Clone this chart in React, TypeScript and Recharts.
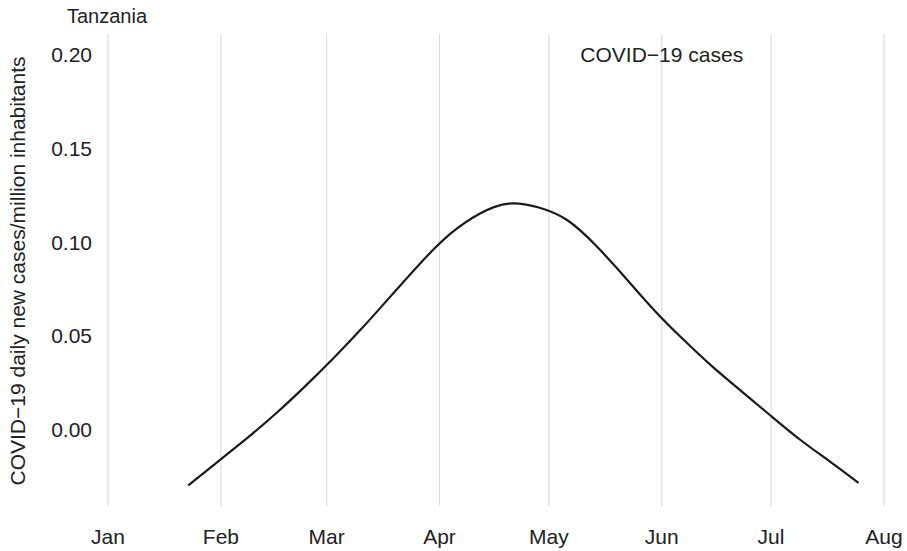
import React from 'react';
import { LineChart, Line, XAxis, YAxis, CartesianGrid, ReferenceDot, Customized } from 'recharts';

const dates = [
  '2020-01-23', '2020-01-31', '2020-02-08', '2020-02-16', '2020-02-24', '2020-03-03',
  '2020-03-11', '2020-03-19', '2020-03-27', '2020-04-04', '2020-04-12', '2020-04-20',
  '2020-04-28', '2020-05-06', '2020-05-14', '2020-05-22', '2020-05-30', '2020-06-07',
  '2020-06-15', '2020-06-23', '2020-07-01', '2020-07-09', '2020-07-17', '2020-07-25',
];
const cases = [
  -0.0300, -0.0175, -0.0050, 0.0083, 0.0228, 0.0382,
  0.0546, 0.0720, 0.0893, 0.1045, 0.1152, 0.1206,
  0.1186, 0.1118, 0.0980, 0.0810, 0.0635, 0.0478,
  0.0333, 0.0201, 0.0071, -0.0056, -0.0170, -0.0286,
];
const monthTicks = ['2020-01-01', '2020-02-01', '2020-03-01', '2020-04-01', '2020-05-01', '2020-06-01', '2020-07-01', '2020-08-01'];
const monthLabels = ['Jan', 'Feb', 'Mar', 'Apr', 'May', 'Jun', 'Jul', 'Aug'];
const yTicks = [0, 0.05, 0.1, 0.15, 0.2];
const countryTitle = 'Tanzania';
const yTitle = 'COVID\u221219 daily new cases/million inhabitants';
const seriesLabel = 'COVID\u221219 cases';
const labelDate = '2020-06-01';
const labelValue = 0.2;

const ORIGIN = Date.parse('2020-01-01T00:00:00Z');
const toDay = (s: string) => Math.round((Date.parse(s + 'T00:00:00Z') - ORIGIN) / 86400000);

const data = dates.map((d, i) => ({ day: toDay(d), value: cases[i] }));
const xTicks = monthTicks.map(toDay);

const FONT = '"Liberation Sans", Arial, Helvetica, sans-serif';
const TEXT = '#222222';

const Title = () => (
  <text x={67} y={23} fontFamily={FONT} fontSize={20} fill={TEXT}>{countryTitle}</text>
);
const YTitle = () => (
  <text
    x={25}
    y={271}
    transform="rotate(-90 25 271)"
    textAnchor="middle"
    fontFamily={FONT}
    fontSize={21}
    fill={TEXT}
  >
    {yTitle}
  </text>
);

const gridX = (props: any) => {
  const scale = props?.xAxis?.scale;
  if (typeof scale === 'function') return xTicks.map((t) => scale(t));
  if (scale && typeof scale.map === 'function') return xTicks.map((t) => scale.map(t));
  return [];
};

export default function App() {
  return (
    <div style={{ position: 'absolute', left: 0, top: 0, width: 907, height: 551, background: '#fff' }}>
      <LineChart
        width={907}
        height={551}
        data={data}
        margin={{ top: 34, right: 11, bottom: 0, left: 0 }}
        style={{ fontFamily: FONT }}
      >
        <CartesianGrid
          horizontal={false}
          vertical={true}
          stroke="#dcdcdc"
          strokeWidth={1.1}
          verticalCoordinatesGenerator={gridX}
        />
        <XAxis
          dataKey="day"
          type="number"
          domain={[-3.3, 216.3]}
          allowDataOverflow
          ticks={xTicks}
          tickFormatter={(v: number) => monthLabels[xTicks.indexOf(v)] ?? ''}
          axisLine={false}
          tickLine={false}
          tickSize={0}
          tickMargin={23}
          height={45}
          interval={0}
          tick={{ fontSize: 21, fill: TEXT, fontFamily: FONT }}
        />
        <YAxis
          type="number"
          domain={[-0.041, 0.2112]}
          allowDataOverflow
          ticks={yTicks}
          tickFormatter={(v: number) => v.toFixed(2)}
          axisLine={false}
          tickLine={false}
          tickSize={0}
          tickMargin={4}
          width={96}
          interval={0}
          tick={{ fontSize: 21, fill: TEXT, fontFamily: FONT }}
        />
        <Line
          type="natural"
          dataKey="value"
          stroke="#1a1a1a"
          strokeWidth={2.2}
          dot={false}
          activeDot={false}
          isAnimationActive={false}
        />
        <ReferenceDot
          x={toDay(labelDate)}
          y={labelValue}
          r={0}
          fill="none"
          stroke="none"
          label={{ value: seriesLabel, position: 'center', fontSize: 21, fill: TEXT, fontFamily: FONT }}
        />
        <Customized component={Title} />
        <Customized component={YTitle} />
      </LineChart>
    </div>
  );
}
